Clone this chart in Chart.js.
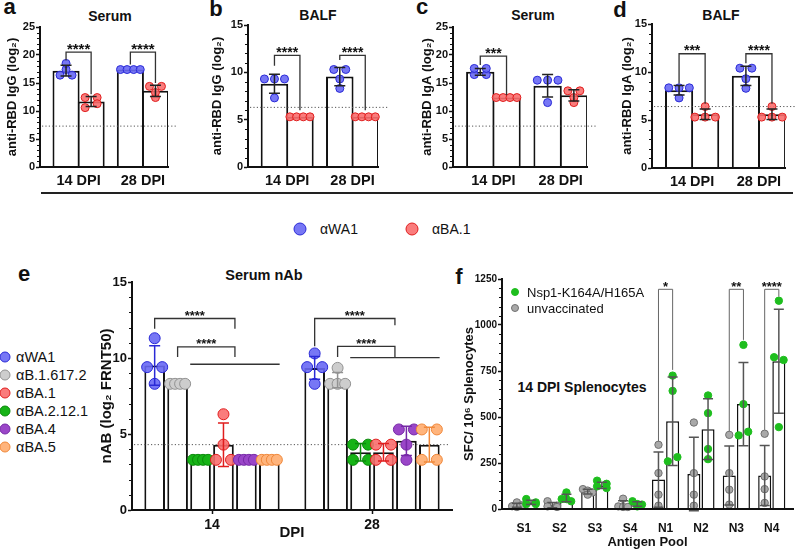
<!DOCTYPE html>
<html>
<head>
<meta charset="utf-8">
<title>Antibody and T cell responses</title>
<script src="https://cdn.jsdelivr.net/npm/chart.js@4.4.1/dist/chart.umd.min.js"></script>
<style>
  body { margin: 0; background: #fff; }
  #page { position: relative; width: 798px; height: 550px; overflow: hidden; font-family: "Liberation Sans", Arial, sans-serif; color: #111; }
  #page canvas { position: absolute; }
  .txt { position: absolute; white-space: nowrap; line-height: 1; transform: translate(-50%, -50%); }
  .txt.left { transform: translate(0, -50%); }
  .bold { font-weight: bold; }
  .dot { position: absolute; border-radius: 50%; box-sizing: border-box; transform: translate(-50%, -50%); }
</style>
</head>
<body>
<div id="page">
  <div class="txt bold" style="left:9.5px;top:7px;font-size:22px">a</div>
  <div class="txt bold" style="left:216px;top:8.5px;font-size:22px">b</div>
  <div class="txt bold" style="left:422px;top:6.5px;font-size:22px">c</div>
  <div class="txt bold" style="left:620px;top:9.5px;font-size:22px">d</div>
  <div class="txt bold" style="left:24px;top:274px;font-size:22px">e</div>
  <div class="txt bold" style="left:459px;top:276.5px;font-size:22px">f</div>
  <div class="txt bold" style="left:110px;top:16px;font-size:14px">Serum</div>
  <div class="txt bold" style="left:318px;top:15px;font-size:14px">BALF</div>
  <div class="txt bold" style="left:533px;top:15px;font-size:14px">Serum</div>
  <div class="txt bold" style="left:721px;top:15px;font-size:14px">BALF</div>
  <div class="txt bold" style="left:264px;top:274.5px;font-size:14.5px">Serum nAb</div>
  <div class="txt bold" style="left:582px;top:387px;font-size:14px">14 DPI Splenocytes</div>
  <div style="position:absolute;left:41px;top:192px;width:752px;height:2px;background:#222"></div>
</div>
<script>
// ---- panels a-d: anti-RBD titres (log2), αWA1 vs αBA.1 sera ----
const dpiLabels = ['14 DPI', '28 DPI'];
const topSeries = ['αWA1', 'αBA.1'];

const aWA1Mean = [17.2, 17.4];
const aWA1Sd = [0.95, 0];
const aWA1Pts = [[16.4, 17.4, 18.5, 16.4], [17.4, 17.4, 17.4, 17.4]];
const aBA1Mean = [11.7, 13.6];
const aBA1Sd = [0.9, 1.0];
const aBA1Pts = [[12.4, 12.4, 10.6, 11.3], [14.4, 14.4, 12.4, 13.3]];
const aLimit = 7.3;
// [group, from bar, to bar, bracket top, left leg end, right leg end, label]
const aSig = [[0, 0, 1, 20.5, 19.0, 13.0, '****'], [1, 0, 1, 20.5, 18.3, 15.0, '****']];

const bWA1Mean = [8.8, 9.55];
const bWA1Sd = [1.0, 0.96];
const bWA1Pts = [[9.3, 9.3, 9.3, 7.3], [10.3, 10.3, 9.3, 8.3]];
const bBA1Mean = [5.3, 5.3];
const bBA1Sd = [0, 0];
const bBA1Pts = [[5.3, 5.3, 5.3, 5.3], [5.3, 5.3, 5.3, 5.3]];
const bLimit = 6.3;
const bSig = [[0, 0, 1, 11.8, 10.7, 6.0, '****'], [1, 0, 1, 11.8, 11.3, 6.0, '****']];

const cWA1Mean = [17.0, 14.5];
const cWA1Sd = [0.6, 2.0];
const cWA1Pts = [[16.5, 17.6, 16.5, 17.6], [15.5, 15.5, 15.5, 11.5]];
const cBA1Mean = [12.4, 12.8];
const cBA1Sd = [0, 1.0];
const cBA1Pts = [[12.4, 12.4, 12.4, 12.4], [13.6, 13.6, 11.5, 12.4]];
const cLimit = 7.3;
const cSig = [[0, 0, 1, 19.8, 18.2, 12.8, '***']];

const dWA1Mean = [8.1, 9.6];
const dWA1Sd = [0.5, 1.0];
const dWA1Pts = [[8.35, 8.35, 8.35, 7.3], [10.4, 10.4, 9.3, 8.3]];
const dBA1Mean = [5.6, 5.6];
const dBA1Sd = [0.55, 0.55];
const dBA1Pts = [[5.3, 6.4, 5.3, 5.3], [6.4, 5.3, 5.3, 5.3]];
const dLimit = 6.4;
const dSig = [[0, 0, 1, 11.9, 8.8, 6.7, '***'], [1, 0, 1, 11.9, 10.9, 6.7, '****']];

// ---- panel e: serum nAb (bar order differs from legend order) ----
const eDays = ['14', '28'];
const eSeries = ['αWA1', 'αB.1.617.2', 'αBA.2.12.1', 'αBA.1', 'αBA.4', 'αBA.5'];
const eLegendOrder = [0, 1, 3, 2, 4, 5];
const eWA1Mean = [9.5, 9.35], eWA1Sd = [1.3, 0.75];
const eWA1Pts = [[11.3, 9.4, 9.4, 8.3], [10.3, 9.4, 9.4, 8.3]];
const eDeltaMean = [8.3, 8.55], eDeltaSd = [0, 0.5];
const eDeltaPts = [[8.3, 8.3, 8.3, 8.3], [9.35, 8.3, 8.3, 8.3]];
const eBA212Mean = [3.3, 3.8], eBA212Sd = [0, 0.58];
const eBA212Pts = [[3.3, 3.3, 3.3, 3.3], [4.3, 4.3, 3.3, 3.3]];
const eBA1Mean = [4.3, 3.8], eBA1Sd = [1.43, 0.58];
const eBA1Pts = [[6.3, 4.3, 3.3, 3.3], [4.3, 4.3, 3.3, 3.3]];
const eBA4Mean = [3.3, 4.55], eBA4Sd = [0, 0.96];
const eBA4Pts = [[3.3, 3.3, 3.3, 3.3], [5.3, 5.3, 4.3, 3.3]];
const eBA5Mean = [3.3, 4.3], eBA5Sd = [0, 1.15];
const eBA5Pts = [[3.3, 3.3, 3.3, 3.3], [5.3, 5.3, 3.3, 3.3]];
const eLimit = 4.3;
const eSig = [
  [0, 0, [2, 5], 12.6, 11.93, 11.93, '****'],
  [0, 1, [2, 5], 10.73, 10.07, 10.07, '****'],
  [1, 0, [2, 5], 12.6, 10.77, 12.15, '****'],
  [1, 1, [2, 5], 10.77, 10.07, 10.07, '****']
];
const eGroupLines = [[0, [2, 5], 9.59], [1, [2, 5], 10.03]];

// ---- panel f: ELISpot, SFC per 10^6 splenocytes ----
const fPools = ['S1', 'S2', 'S3', 'S4', 'N1', 'N2', 'N3', 'N4'];
const fSeries = ['unvaccinated', 'Nsp1-K164A/H165A'];
const fUnvacMean = [20, 21, 94, 23, 160, 190, 182, 182];
const fUnvacSd = [11, 14, 13, 22, 150, 200, 160, 163];
const fUnvacPts = [[15, 36, 20, 11], [42, 14, 18, 11], [108, 100, 90, 78], [56, 14, 11, 11],
  [349, 195, 78, 18], [470, 195, 78, 18], [403, 195, 105, 24], [409, 177, 108, 33]];
const fNspMean = [36, 60, 128, 27, 477, 434, 570, 803];
const fNspSd = [12, 20, 17, 12, 240, 165, 226, 282];
const fNspPts = [[54, 27, 27, 36], [90, 54, 54, 42], [154, 137, 123, 114], [42, 27, 24, 14],
  [725, 642, 259, 282], [617, 521, 326, 271], [892, 570, 400, 420], [1132, 825, 810, 445]];
const fSig = [[4, 0, 1, 1194, 367, 756, '*'], [6, 0, 1, 1194, 421, 919, '**'], [7, 0, 1, 1194, 430, 1154, '****']];

// ---- styling ----
const FONT = '"Liberation Sans", Arial, Helvetica, sans-serif';
Chart.defaults.font.family = FONT;
Chart.defaults.color = '#111';

const BLUE = ['rgba(104,104,244,0.9)', '#2a2ad6'];
const RED = ['rgba(250,110,110,0.9)', '#e01e1e'];
const GREY = ['#cdcdcd', '#929292'];
const GREEN = ['#16b316', '#0b8a0b'];
const PURPLE = ['#9a46c8', '#7629a6'];
const ORANGE = ['#ffb47c', '#f0883a'];
const F_GREY = ['#a9a9a9', '#707070'];
const F_GREEN = ['#1ebe1e', '#1ebe1e'];
const eColors = [BLUE, GREY, GREEN, RED, PURPLE, ORANGE];

// spread replicate dots sideways inside a bar, row by row
function swarmOffsets(vals, toPx, r, barW) {
  const order = vals.map((v, i) => i).sort((p, q) => vals[q] - vals[p]);
  const rows = [];
  order.forEach(i => {
    const y = toPx(vals[i]);
    const row = rows[rows.length - 1];
    if (row && Math.abs(y - row.y) < r * 1.2) row.items.push(i);
    else rows.push({ y, items: [i] });
  });
  const offs = [];
  rows.forEach(row => {
    const n = row.items.length;
    const gap = n > 1 ? Math.min(r * 3, barW * 0.73 / (n - 1)) : 0;
    row.items.slice().sort((p, q) => p - q).forEach((i, k) => { offs[i] = (k - (n - 1) / 2) * gap; });
  });
  return offs;
}

function marksPlugin(o) {
  return {
    id: 'marks',
    afterDatasetsDraw(chart) {
      const ctx = chart.ctx, ys = chart.scales.y, area = chart.chartArea;
      const py = v => ys.getPixelForValue(v);
      const bar = (d, g) => chart.getDatasetMeta(d).data[g];
      const xOf = (g, ref) => {
        if (!Array.isArray(ref)) return bar(ref, g).x;
        const b0 = bar(ref[0], g), b1 = bar(ref[1], g);
        return (b0.x - b0.width / 2 + b1.x + b1.width / 2) / 2;
      };
      ctx.save();

      // detection limit
      if (o.limit !== undefined) {
        ctx.strokeStyle = '#555';
        ctx.lineWidth = 1;
        ctx.setLineDash([1.2, 2.2]);
        ctx.beginPath();
        ctx.moveTo(area.left + 2, py(o.limit));
        ctx.lineTo(area.right + o.limitExt, py(o.limit));
        ctx.stroke();
        ctx.setLineDash([]);
      }

      // replicate dots
      o.pts.forEach((series, d) => series.forEach((vals, g) => {
        const b = bar(d, g);
        const offs = swarmOffsets(vals, py, o.dotR, b.width);
        ctx.fillStyle = o.dots[d][0];
        ctx.strokeStyle = o.dots[d][1];
        ctx.lineWidth = 1;
        vals.forEach((v, k) => {
          ctx.beginPath();
          ctx.arc(b.x + offs[k], py(v), o.dotR, 0, Math.PI * 2);
          ctx.fill();
          ctx.stroke();
        });
      }));

      // mean ± SD
      ctx.lineWidth = 1.5;
      o.sds.forEach((series, d) => series.forEach((sd, g) => {
        if (!sd) return;
        const b = bar(d, g), m = o.means[d][g];
        const yHi = py(m + sd), yLo = py(m - sd);
        ctx.strokeStyle = o.errColor || o.dots[d][1];
        ctx.beginPath();
        ctx.moveTo(b.x, yHi); ctx.lineTo(b.x, yLo);
        ctx.moveTo(b.x - o.cap, yHi); ctx.lineTo(b.x + o.cap, yHi);
        ctx.moveTo(b.x - o.cap, yLo); ctx.lineTo(b.x + o.cap, yLo);
        ctx.stroke();
      }));

      // significance brackets
      ctx.strokeStyle = o.sigColor || '#222';
      ctx.fillStyle = '#111';
      ctx.lineWidth = o.sigWidth || 1.3;
      (o.groupLines || []).forEach(([g, ref, v]) => {
        const b0 = bar(ref[0], g), b1 = bar(ref[1], g);
        ctx.beginPath();
        ctx.moveTo(b0.x - b0.width / 2, py(v));
        ctx.lineTo(b1.x + b1.width / 2, py(v));
        ctx.stroke();
      });
      ctx.font = `bold ${o.starSize}px ${FONT}`;
      ctx.textAlign = 'center';
      ctx.textBaseline = 'alphabetic';
      o.sig.forEach(([g, r1, r2, top, yl, yr, txt]) => {
        const x1 = xOf(g, r1), x2 = xOf(g, r2), yt = py(top);
        ctx.beginPath();
        ctx.moveTo(x1, py(yl)); ctx.lineTo(x1, yt); ctx.lineTo(x2, yt); ctx.lineTo(x2, py(yr));
        ctx.stroke();
        ctx.fillText(txt, (x1 + x2) / 2, yt + o.starSize * 0.1);
      });
      ctx.restore();
    },
    afterDraw(chart) {
      if (!o.minor) return;
      const ctx = chart.ctx, ys = chart.scales.y, left = chart.chartArea.left;
      ctx.save();
      ctx.strokeStyle = '#111';
      ctx.lineWidth = 1;
      ctx.beginPath();
      for (let k = 1; k * o.minor < o.yMax; k++) {
        const v = k * o.minor;
        if (v % o.yStep === 0) continue;
        const y = Math.round(ys.getPixelForValue(v)) + 0.5;
        ctx.moveTo(left - 3, y); ctx.lineTo(left, y);
      }
      ctx.stroke();
      ctx.restore();
    }
  };
}

function drawPanel(o) {
  const [cx, cy, cw, ch] = o.rect;
  const [l, t, r, b] = o.area;
  const cv = document.createElement('canvas');
  cv.width = cw;
  cv.height = ch;
  cv.style.left = cx + 'px';
  cv.style.top = cy + 'px';
  document.getElementById('page').appendChild(cv);

  return new Chart(cv, {
    type: 'bar',
    data: {
      datasets: o.means.map(m => ({
        data: m.map((v, i) => ({ x: i, y: v })),
        backgroundColor: '#fff',
        borderColor: '#111',
        borderWidth: o.barBorder,
        categoryPercentage: o.catPct,
        barPercentage: o.barPct
      }))
    },
    options: {
      responsive: false,
      animation: false,
      events: [],
      layout: { padding: { top: t - cy, right: cx + cw - r, left: 0, bottom: 0 } },
      plugins: { legend: { display: false }, tooltip: { enabled: false } },
      scales: {
        x: {
          type: 'linear',
          min: o.xRange[0],
          max: o.xRange[1],
          offset: false,
          afterBuildTicks: s => { s.ticks = o.labels.map((_, i) => ({ value: i })); },
          afterFit: s => { s.height = cy + ch - b; },
          ticks: {
            callback: v => o.labels[v],
            autoSkip: false,
            maxRotation: 0,
            padding: o.xPad,
            color: '#111',
            font: { size: o.xFont, weight: 'bold' }
          },
          grid: { display: !!o.xTicks, drawOnChartArea: false, offset: false, tickLength: 4, tickWidth: 1.5, tickColor: '#111' },
          border: { color: '#111', width: 2, z: 1 },
          title: o.xTitle
            ? { display: true, text: o.xTitle, color: '#111', font: { size: o.xTitleFont, weight: 'bold' }, padding: { top: 0, bottom: o.xTitlePad } }
            : { display: false }
        },
        y: {
          min: 0,
          max: o.yMax,
          afterFit: s => { s.width = l - cx; },
          ticks: {
            stepSize: o.yStep,
            callback: v => String(v),
            padding: 1,
            color: '#111',
            font: { size: o.tickFont, weight: 'bold' }
          },
          grid: { drawOnChartArea: false, tickLength: 4, tickWidth: 1.5, tickColor: '#111' },
          border: { color: '#111', width: 2 },
          title: {
            display: true,
            text: o.yTitle,
            color: '#111',
            font: { size: o.titleFont, weight: 'bold' },
            padding: { top: o.titlePad, bottom: 0 }
          }
        }
      }
    },
    plugins: [marksPlugin(o)]
  });
}

const topCommon = {
  labels: dpiLabels, xRange: [-0.6, 1.39], catPct: 0.78, barPct: 1.08, barBorder: 2,
  yStep: 5, minor: 1, dots: [BLUE, RED], dotR: 4, errColor: '#222', cap: 5.5,
  limitExt: 10, starSize: 14, tickFont: 11, xFont: 14.5, xPad: 1, titleFont: 13, titlePad: 5,
  sigColor: '#333'
};

drawPanel({ ...topCommon, rect: [0, 0, 195, 192], area: [40, 27, 168, 167], yMax: 25,
  yTitle: 'anti-RBD IgG (log₂)', means: [aWA1Mean, aBA1Mean], sds: [aWA1Sd, aBA1Sd],
  pts: [aWA1Pts, aBA1Pts], limit: aLimit, sig: aSig, starSize: 15 });

drawPanel({ ...topCommon, rect: [205, 0, 190, 192], area: [248, 25, 378, 167], yMax: 15,
  yTitle: 'anti-RBD IgG (log₂)', means: [bWA1Mean, bBA1Mean], sds: [bWA1Sd, bBA1Sd],
  pts: [bWA1Pts, bBA1Pts], limit: bLimit, sig: bSig });

drawPanel({ ...topCommon, rect: [415, 0, 190, 192], area: [453, 27, 587, 167], yMax: 25,
  yTitle: 'anti-RBD IgA (log₂)', means: [cWA1Mean, cBA1Mean], sds: [cWA1Sd, cBA1Sd],
  pts: [cWA1Pts, cBA1Pts], limit: cLimit, sig: cSig });

drawPanel({ ...topCommon, rect: [615, 0, 183, 192], area: [652, 24, 785, 168], yMax: 15,
  yTitle: 'anti-RBD IgA (log₂)', means: [dWA1Mean, dBA1Mean], sds: [dWA1Sd, dBA1Sd],
  pts: [dWA1Pts, dBA1Pts], limit: dLimit, sig: dSig });

drawPanel({
  rect: [95, 262, 365, 281], area: [132, 282, 452, 510],
  labels: eDays, xRange: [-0.5, 1.5], catPct: 0.86, barPct: 0.9, barBorder: 2,
  yMax: 15, yStep: 5, minor: 1, xTicks: true,
  yTitle: 'nAB (log₂ FRNT50)', titleFont: 15, titlePad: 3,
  xTitle: 'DPI', xTitleFont: 15, xTitlePad: 1,
  tickFont: 13, xFont: 14, xPad: 2.5,
  means: [eWA1Mean, eDeltaMean, eBA212Mean, eBA1Mean, eBA4Mean, eBA5Mean],
  sds: [eWA1Sd, eDeltaSd, eBA212Sd, eBA1Sd, eBA4Sd, eBA5Sd],
  pts: [eWA1Pts, eDeltaPts, eBA212Pts, eBA1Pts, eBA4Pts, eBA5Pts],
  dots: eColors, dotR: 5.5, cap: 5.5,
  limit: eLimit, limitExt: -2, sig: eSig, groupLines: eGroupLines, starSize: 13, sigColor: '#333'
});

drawPanel({
  rect: [459, 262, 339, 288], area: [502, 279, 793, 509],
  labels: fPools, xRange: [-0.62, 7.6], catPct: 0.8, barPct: 0.92, barBorder: 1.5,
  yMax: 1250, yStep: 250, minor: 50,
  yTitle: 'SFC/ 10⁶ Splenocytes', titleFont: 13, titlePad: 3,
  xTitle: 'Antigen Pool', xTitleFont: 13, xTitlePad: 0,
  tickFont: 10, xFont: 12, xPad: 8.5,
  means: [fUnvacMean, fNspMean], sds: [fUnvacSd, fNspSd], pts: [fUnvacPts, fNspPts],
  dots: [F_GREY, F_GREEN], dotR: 3.7, errColor: '#555', cap: 5,
  sig: fSig, starSize: 13, sigColor: '#666', sigWidth: 1
});

// ---- legends ----
const page = document.getElementById('page');
function addText(text, x, y, size, bold) {
  const el = document.createElement('div');
  el.className = 'txt left' + (bold ? ' bold' : '');
  el.style.left = x + 'px';
  el.style.top = y + 'px';
  el.style.fontSize = size + 'px';
  el.textContent = text;
  page.appendChild(el);
}
function addDot(x, y, r, style) {
  const el = document.createElement('div');
  el.className = 'dot';
  el.style.left = x + 'px';
  el.style.top = y + 'px';
  el.style.width = el.style.height = (2 * r) + 'px';
  el.style.background = style[0];
  el.style.border = '1.5px solid ' + style[1];
  page.appendChild(el);
}

[BLUE, RED].forEach((st, i) => {
  addDot(300 + i * 112, 229, 6.5, st);
  addText(topSeries[i], 320 + i * 112, 229, 14);
});

eLegendOrder.forEach((s, row) => {
  addDot(5, 357 + row * 18, 5.5, eColors[s]);
  addText(eSeries[s], 16, 357 + row * 18, 14.5);
});

[[1, F_GREEN], [0, F_GREY]].forEach(([s, st], row) => {
  addDot(515, 292 + row * 16, 4, st);
  addText(fSeries[s], 527, 292 + row * 16, 13);
});
</script>
</body>
</html>
